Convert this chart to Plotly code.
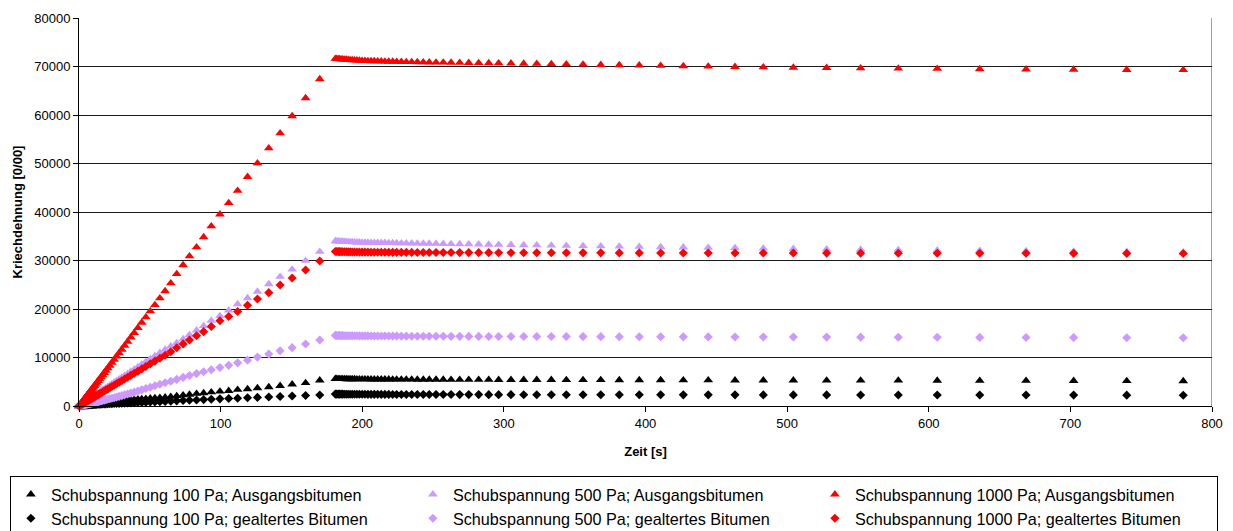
import plotly.graph_objects as go

# Sampling times [s]: creep phase (load on) and the following hold phase
t_load = [0, 0.5, 1, 1.5, 2, 2.5, 3, 3.5, 4, 4.5,
          5, 5.6, 6.2, 6.8, 7.4, 8, 8.7, 9.4, 10.1, 10.9,
          11.7, 12.6, 13.5, 14.5, 15.5, 16.6, 17.8, 19, 20.3, 21.7,
          23.2, 24.8, 26.5, 28.3, 30.2, 32.2, 34.3, 36.6, 39, 41.6,
          44.3, 47.2, 50.3, 53.6, 57.1, 60.8, 64.8, 69, 73.5, 78,
          83, 88, 93.4, 99.5, 105.7, 112, 119, 126, 134, 142,
          150.5, 160, 170]
t_hold = [181, 182, 183, 184, 185.1, 186.2, 187.4, 188.7, 190, 191.4,
          192.9, 194.5, 196.2, 198, 199.9, 201.9, 204, 206.2, 208.5, 210.9,
          213.4, 216, 218.7, 221.5,
          224.3, 227.6, 231.1, 234.9, 238.9, 243.1, 247.3, 252.1, 257.2, 262.7,
          268.8, 275.2, 282.2, 289.3, 296.3, 305, 314, 323.2, 333.5, 344.1,
          355.9, 368.4, 381.5, 395.6, 410.7, 426.7, 444.3, 463.2, 483.2, 504.4,
          527.9, 551.9, 578.5, 606, 636, 668.7, 702.3, 739.8, 779.7]

# Kriechdehnung [0/00] -- 100 Pa, Ausgangsbitumen
aus_100_load = [0, 90, 150, 200, 240, 280, 310, 340, 370, 395,
                420, 445, 470, 495, 520, 540, 565, 590, 615, 640,
                665, 695, 720, 750, 780, 815, 850, 885, 920, 960,
                1000, 1040, 1080, 1125, 1170, 1215, 1260, 1310, 1360, 1410,
                1460, 1520, 1580, 1650, 1720, 1800, 1920, 2080, 2220, 2370,
                2530, 2680, 2850, 3000, 3130, 3370, 3500, 3700, 3900, 4150,
                4480, 4760, 5300]
aus_100_hold = [5600, 5595, 5590, 5585, 5580, 5575, 5570, 5565, 5560, 5555,
                5550, 5545, 5540, 5535, 5530, 5525, 5520, 5515, 5510, 5505,
                5500, 5495, 5490, 5485,
                5480, 5475, 5470, 5465, 5460, 5455, 5450, 5445, 5440, 5435,
                5430, 5425, 5420, 5415, 5410, 5405, 5400, 5395, 5390, 5385,
                5380, 5370, 5360, 5350, 5340, 5330, 5320, 5310, 5300, 5290,
                5280, 5270, 5260, 5250, 5230, 5210, 5190, 5170, 5150]

# 500 Pa, Ausgangsbitumen
aus_500_load = [0, 110, 210, 310, 410, 510, 610, 710, 800, 900,
                990, 1110, 1230, 1350, 1460, 1580, 1710, 1850, 1990, 2140,
                2300, 2470, 2650, 2840, 3030, 3250, 3480, 3710, 3960, 4230,
                4520, 4830, 5160, 5500, 5870, 6250, 6650, 7090, 7550, 8050,
                8560, 9110, 9700, 10320, 10980, 11650, 12300, 13000, 13800, 14650,
                15600, 16520, 17600, 18560, 19700, 21030, 22250, 23600, 25150, 26670,
                28150, 29960, 31820]
aus_500_hold = [34000, 33980, 33960, 33940, 33920, 33900, 33880, 33860, 33840, 33820,
                33800, 33780, 33760, 33740, 33720, 33700, 33690, 33680, 33670, 33660,
                33650, 33640, 33630, 33620,
                33600, 33580, 33560, 33540, 33520, 33500, 33480, 33460, 33440, 33420,
                33390, 33360, 33330, 33300, 33270, 33230, 33190, 33150, 33100, 33050,
                33000, 32950, 32900, 32840, 32780, 32720, 32650, 32580, 32500, 32420,
                32340, 32260, 32180, 32100, 32020, 31940, 31860, 31780, 31700]

# 1000 Pa, Ausgangsbitumen
aus_1000_load = [0, 200, 390, 580, 770, 960, 1150, 1340, 1530, 1720,
                 1910, 2140, 2370, 2600, 2830, 3060, 3330, 3600, 3870, 4170,
                 4480, 4830, 5170, 5560, 5940, 6370, 6830, 7300, 7800, 8350,
                 8930, 9550, 10210, 10910, 11650, 12430, 13250, 14150, 15100, 16120,
                 17200, 18320, 19550, 20850, 22240, 23710, 25330, 27220, 29060, 30900,
                 32750, 34840, 37080, 39520, 41880, 44400, 47250, 50060, 53150, 56250,
                 59780, 63480, 67420]
aus_1000_hold = [71600, 71580, 71560, 71540, 71510, 71480, 71450, 71420, 71390, 71360,
                 71330, 71300, 71270, 71240, 71210, 71180, 71150, 71130, 71110, 71090,
                 71070, 71050, 71030, 71010,
                 70990, 70970, 70950, 70930, 70910, 70890, 70870, 70850, 70830, 70810,
                 70790, 70770, 70740, 70710, 70680, 70650, 70610, 70570, 70520, 70470,
                 70420, 70360, 70300, 70240, 70170, 70100, 70020, 69940, 69860, 69790,
                 69720, 69660, 69600, 69540, 69480, 69430, 69380, 69330, 69280]

# 100 Pa, gealtertes Bitumen
alt_100_load = [0, 40, 70, 95, 115, 135, 150, 165, 180, 192,
                205, 218, 230, 242, 254, 265, 278, 290, 302, 315,
                328, 342, 356, 370, 385, 400, 416, 432, 450, 468,
                487, 507, 528, 550, 573, 597, 622, 650, 680, 712,
                745, 780, 818, 858, 900, 945, 1000, 1060, 1120, 1185,
                1250, 1320, 1390, 1470, 1540, 1610, 1690, 1770, 1860, 1950,
                2050, 2150, 2270]
alt_100_hold = [2450, 2448, 2446, 2444, 2442, 2440, 2437, 2434, 2431, 2428,
                2425, 2422, 2419, 2416, 2413, 2410, 2407, 2404, 2401, 2398,
                2395, 2392, 2389, 2386,
                2383, 2380, 2377, 2374, 2371, 2368, 2365, 2362, 2359, 2356,
                2353, 2350, 2347, 2344, 2341, 2338, 2335, 2332, 2329, 2326,
                2323, 2320, 2316, 2312, 2308, 2304, 2300, 2296, 2292, 2288,
                2284, 2280, 2276, 2270, 2264, 2258, 2250, 2240, 2230]

# 500 Pa, gealtertes Bitumen
alt_500_load = [0, 35, 70, 105, 140, 175, 205, 240, 275, 305,
                340, 380, 420, 460, 500, 540, 590, 635, 685, 735,
                790, 850, 910, 980, 1050, 1120, 1210, 1290, 1380, 1480,
                1590, 1710, 1840, 1980, 2130, 2290, 2460, 2650, 2860, 3090,
                3330, 3610, 3880, 4170, 4480, 4780, 5090, 5480, 5900, 6290,
                6680, 7070, 7460, 7940, 8380, 8900, 9450, 10080, 10700, 11380,
                12030, 12780, 13610]
alt_500_hold = [14560, 14550, 14540, 14530, 14520, 14510, 14500, 14495, 14490, 14485,
                14480, 14475, 14470, 14465, 14460, 14455, 14450, 14445, 14440, 14435,
                14430, 14425, 14420, 14415,
                14410, 14405, 14400, 14395, 14390, 14385, 14380, 14375, 14370, 14365,
                14360, 14355, 14350, 14345, 14340, 14335, 14330, 14325, 14320, 14315,
                14310, 14300, 14290, 14280, 14270, 14260, 14250, 14240, 14230, 14220,
                14210, 14200, 14180, 14160, 14140, 14120, 14100, 14080, 14060]

# 1000 Pa, gealtertes Bitumen
alt_1000_load = [0, 90, 180, 265, 350, 440, 525, 610, 700, 785,
                 870, 975, 1080, 1180, 1285, 1390, 1510, 1630, 1750, 1890,
                 2030, 2180, 2340, 2510, 2680, 2870, 3080, 3290, 3510, 3750,
                 4010, 4290, 4580, 4890, 5220, 5560, 5930, 6320, 6740, 7190,
                 7650, 8150, 8690, 9260, 9860, 10450, 11200, 12000, 12800, 13620,
                 14470, 15330, 16400, 17590, 18450, 19470, 20780, 22060, 23370, 24950,
                 26400, 28040, 29900]
alt_1000_hold = [31860, 31850, 31840, 31830, 31820, 31810, 31800, 31790, 31780, 31770,
                 31760, 31750, 31740, 31735, 31730, 31725, 31720, 31715, 31710, 31705,
                 31700, 31695, 31690, 31685,
                 31680, 31675, 31670, 31665, 31660, 31655, 31650, 31645, 31640, 31635,
                 31630, 31625, 31620, 31615, 31610, 31605, 31600, 31595, 31590, 31585,
                 31580, 31575, 31570, 31565, 31560, 31555, 31550, 31545, 31540, 31535,
                 31530, 31520, 31510, 31500, 31490, 31480, 31470, 31460, 31450]

x_ticks = [0, 100, 200, 300, 400, 500, 600, 700, 800]
y_ticks = [0, 10000, 20000, 30000, 40000, 50000, 60000, 70000, 80000]

RED = "#FF0000"
LILAC = "#CC99FF"
BLACK = "#000000"
FONT = "Arial, Liberation Sans, sans-serif"

series = [
    ("Schubspannung 100 Pa; Ausgangsbitumen", aus_100_load + aus_100_hold, "triangle-up", BLACK),
    ("Schubspannung 500 Pa; Ausgangsbitumen", aus_500_load + aus_500_hold, "triangle-up", LILAC),
    ("Schubspannung 1000 Pa; Ausgangsbitumen", aus_1000_load + aus_1000_hold, "triangle-up", RED),
    ("Schubspannung 100 Pa; gealtertes Bitumen", alt_100_load + alt_100_hold, "diamond", BLACK),
    ("Schubspannung 500 Pa; gealtertes Bitumen", alt_500_load + alt_500_hold, "diamond", LILAC),
    ("Schubspannung 1000 Pa; gealtertes Bitumen", alt_1000_load + alt_1000_hold, "diamond", RED),
]

t_all = t_load + t_hold

fig = go.Figure()
for name, values, symbol, color in series:
    fig.add_trace(go.Scatter(
        x=t_all, y=values, name=name, mode="markers",
        marker=dict(symbol=symbol, color=color,
                    size=8.5 if symbol == "triangle-up" else 7,
                    line=dict(width=0)),
        cliponaxis=False,
    ))

# right-hand frame line of the plot area
fig.add_shape(type="line", xref="x", yref="y", x0=800, x1=800, y0=0, y1=80000,
              line=dict(color="#808080", width=1.5), layer="below")

fig.update_layout(
    width=1233, height=531,
    margin=dict(l=79, r=21, t=18, b=125, autoexpand=False),
    paper_bgcolor="white", plot_bgcolor="white",
    font=dict(family=FONT, color="black", size=13),
    showlegend=True,
    legend=dict(
        orientation="h", x=-0.061, xanchor="left", y=-0.181, yanchor="top",
        entrywidth=357, entrywidthmode="pixels",
        bordercolor="black", borderwidth=1,
        font=dict(family=FONT, size=16.2, color="black"),
        itemsizing="trace", traceorder="normal",
    ),
    xaxis=dict(
        range=[0, 800], tickvals=x_ticks, ticks="outside", ticklen=5,
        tickcolor="black", showline=True, linecolor="black", linewidth=1,
        showgrid=False, zeroline=False,
        tickfont=dict(family=FONT, size=13, color="black"),
        title=dict(text="<b>Zeit [s]</b>", font=dict(family=FONT, size=13), standoff=17),
    ),
    yaxis=dict(
        range=[0, 80000], tickvals=y_ticks, ticks="outside", ticklen=5,
        tickcolor="black", showline=True, linecolor="black", linewidth=1,
        showgrid=True, gridcolor="#1a1a1a", gridwidth=1, zeroline=False,
        tickformat="d",
        tickfont=dict(family=FONT, size=13, color="black"),
        title=dict(text="<b>Kriechdehnung [0/00]</b>", font=dict(family=FONT, size=13), standoff=8),
    ),
)

fig.write_html("out.html")
